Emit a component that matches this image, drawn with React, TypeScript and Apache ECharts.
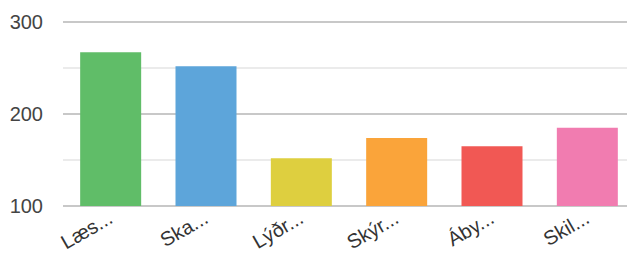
import React, { useEffect, useRef } from "react";
import * as echarts from "echarts";

const categories = ["Læs...", "Ska...", "Lýðr...", "Skýr...", "Áby...", "Skil..."];
const values = [267, 252, 152, 174, 165, 185];
const barColors = ["#60BD68", "#5DA5DA", "#DECF3F", "#FAA43A", "#F15854", "#F17CB0"];
const yMin = 100;
const yMax = 300;
const yInterval = 100;

export default function App() {
  const ref = useRef<HTMLDivElement>(null);
  useEffect(() => {
    if (!ref.current) return;
    const chart = echarts.init(ref.current, undefined, { renderer: "svg" });
    const font = "'Liberation Sans', Arial, sans-serif";
    chart.setOption({
      animation: false,
      grid: { left: 63, right: 5, top: 22, bottom: 48, containLabel: false, outerBoundsMode: "none" },
      xAxis: {
        type: "category",
        data: categories,
        axisLine: { show: false },
        axisTick: { show: false },
        axisLabel: {
          rotate: 30,
          margin: 10,
          fontSize: 20,
          color: "#333",
          fontFamily: font,
          interval: 0,
        },
      },
      yAxis: {
        type: "value",
        min: yMin,
        max: yMax,
        interval: yInterval,
        axisLine: { show: false },
        axisTick: { show: false },
        axisLabel: { fontSize: 20, color: "#444", margin: 20, fontFamily: font },
        splitLine: { lineStyle: { color: "#c8c8c8", width: 2 } },
        minorTick: { show: false, splitNumber: 2 },
        minorSplitLine: { show: true, lineStyle: { color: "#ebebeb", width: 2 } },
      },
      series: [
        {
          type: "bar",
          barWidth: 61,
          data: values.map((v, i) => ({ value: v, itemStyle: { color: barColors[i] } })),
        },
      ],
    });
    return () => chart.dispose();
  }, []);
  return (
    <div style={{ position: "fixed", left: 0, top: 0, width: 627, height: 254, overflow: "hidden", background: "#fff" }}>
      <div ref={ref} style={{ width: 640, height: 254 }} />
    </div>
  );
}
